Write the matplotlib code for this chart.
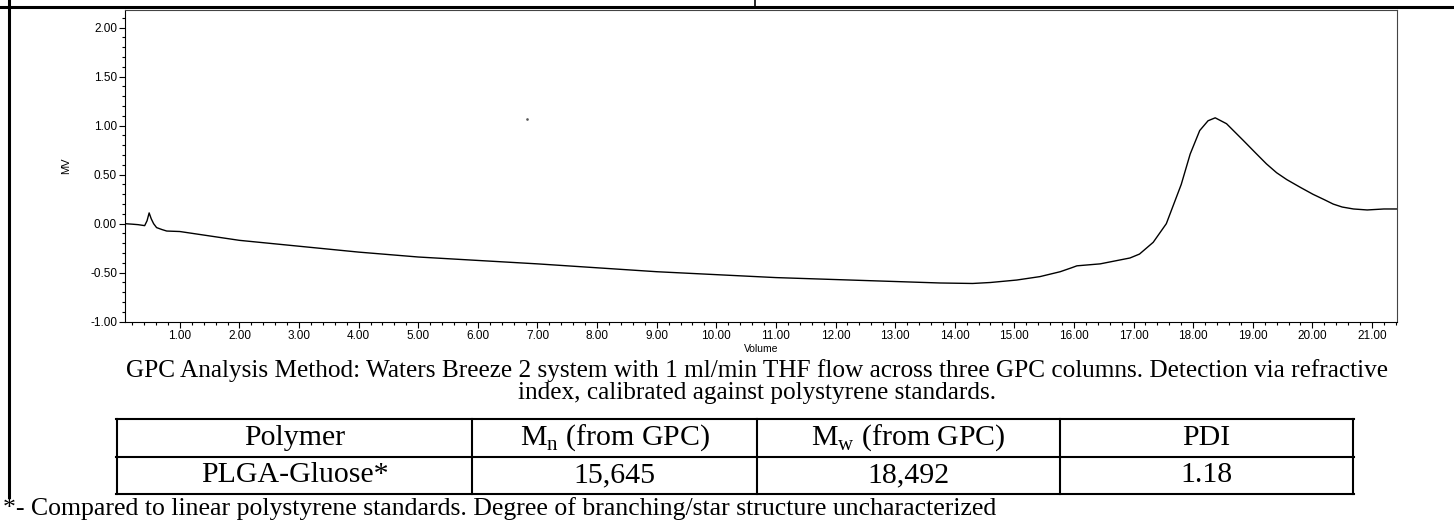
import numpy as np
import matplotlib
matplotlib.use('Agg')
import matplotlib.pyplot as plt
from matplotlib.lines import Line2D
from matplotlib.ticker import MultipleLocator, FormatStrFormatter

# GPC trace (volume in ml, detector signal in MV)
volume = [0.08, 0.20, 0.30, 0.41, 0.45, 0.485, 0.52, 0.56, 0.61, 0.70, 0.78,
          1.00, 1.50, 2.00, 2.50, 3.00, 4.00, 5.00, 6.00, 7.00, 8.00, 9.00,
          10.00, 11.00, 12.00, 13.00, 13.75, 14.30, 14.60, 15.04, 15.43,
          15.77, 15.96, 16.05, 16.44, 16.94, 17.10, 17.33, 17.55, 17.80,
          17.95, 18.11, 18.25, 18.37, 18.56, 18.84, 19.05, 19.23, 19.40,
          19.57, 19.80, 20.01, 20.20, 20.35, 20.50, 20.69, 20.92, 21.20,
          21.42]
signal = [0.00, -0.005, -0.01, -0.02, 0.03, 0.11, 0.05, 0.00, -0.04, -0.06,
          -0.075, -0.08, -0.125, -0.17, -0.20, -0.23, -0.29, -0.34, -0.375,
          -0.41, -0.45, -0.49, -0.52, -0.55, -0.57, -0.59, -0.605, -0.61,
          -0.60, -0.575, -0.54, -0.49, -0.45, -0.43, -0.41, -0.35, -0.31,
          -0.19, 0.00, 0.40, 0.71, 0.95, 1.05, 1.08, 1.02, 0.85, 0.72, 0.61,
          0.52, 0.45, 0.37, 0.30, 0.245, 0.20, 0.17, 0.15, 0.14, 0.15, 0.15]
stray_point = (6.82, 1.07)

caption = ["GPC Analysis Method: Waters Breeze 2 system with 1 ml/min THF flow "
           "across three GPC columns. Detection via refractive",
           "index, calibrated against polystyrene standards."]
table_header = ["Polymer", "M$_\\mathregular{n}$ (from GPC)",
                "M$_\\mathregular{w}$ (from GPC)", "PDI"]
table_row = ["PLGA-Gluose*", "15,645", "18,492", "1.18"]
footnote = ("*- Compared to linear polystyrene standards. Degree of "
            "branching/star structure uncharacterized")

W, H = 1454, 520
plt.rcParams['font.family'] = ['Liberation Sans', 'DejaVu Sans']
plt.rcParams['mathtext.fontset'] = 'custom'
plt.rcParams['mathtext.rm'] = 'Liberation Serif'

fig = plt.figure(figsize=(W / 100, H / 100), dpi=100)


def fx(px):
    return px / W


def fy(py):
    return 1 - py / H


def hline(y, x0, x1, lw):
    fig.add_artist(Line2D([fx(x0), fx(x1)], [fy(y), fy(y)], color='black',
                          lw=lw, transform=fig.transFigure))


def vline(x, y0, y1, lw):
    fig.add_artist(Line2D([fx(x), fx(x)], [fy(y0), fy(y1)], color='black',
                          lw=lw, transform=fig.transFigure))


# chromatogram axes
ax_l, ax_r, ax_t, ax_b = 125, 1397, 10, 321.7
ax = fig.add_axes([fx(ax_l), fy(ax_b), fx(ax_r - ax_l), (ax_b - ax_t) / H])
ax.plot(volume, signal, color='black', lw=1.0)
ax.plot(*stray_point, marker='s', ms=0.8, color='#555555', lw=0)
ax.set_xlim(0.08, 21.42)
ax.set_ylim(-1.0, 2.18)
ax.xaxis.set_major_locator(MultipleLocator(1.0))
ax.xaxis.set_minor_locator(MultipleLocator(0.2))
ax.yaxis.set_major_locator(MultipleLocator(0.5))
ax.yaxis.set_minor_locator(MultipleLocator(0.1))
ax.xaxis.set_major_formatter(FormatStrFormatter('%.2f'))
ax.yaxis.set_major_formatter(FormatStrFormatter('%.2f'))
ax.tick_params(which='major', direction='out', length=4.5, width=0.8,
               labelsize=8.5, pad=1.2)
ax.tick_params(which='minor', direction='out', length=2.5, width=0.8)
for side in ['top', 'right']:
    ax.spines[side].set_color('#444444')
    ax.spines[side].set_linewidth(0.8)
for side in ['left', 'bottom']:
    ax.spines[side].set_linewidth(0.8)
ax.set_xlabel('Volume', fontsize=7.5, labelpad=1.5)
ax.set_ylabel('MV', fontsize=8, labelpad=14)

# page frame lines
hline(7, 0, W, 2.2)
vline(9, 0, 497, 2.2)
vline(755, 0, 6, 1.2)

serif = ['Liberation Serif', 'DejaVu Serif']
fig.text(fx(757), fy(371), caption[0], family=serif, fontsize=18.2,
         ha='center', va='center')
fig.text(fx(757), fy(393), caption[1], family=serif, fontsize=18.2,
         ha='center', va='center')

# results table
col_edges = [117, 472, 757, 1060, 1353]
row_edges = [419, 456.5, 494]
for y in row_edges:
    hline(y, col_edges[0] - 1, col_edges[-1] + 1, 1.5)
for x in col_edges:
    vline(x, row_edges[0], row_edges[-1], 1.5)
for r, row in enumerate([table_header, table_row]):
    yc = (row_edges[r] + row_edges[r + 1]) / 2
    for c, cell in enumerate(row):
        xc = (col_edges[c] + col_edges[c + 1]) / 2
        fig.text(fx(xc), fy(yc), cell, family=serif, fontsize=21.5,
                 ha='center', va='center')

fig.text(fx(3), fy(509), footnote, family=serif, fontsize=18.5,
         ha='left', va='center')

fig.savefig('out.png', dpi=100)
